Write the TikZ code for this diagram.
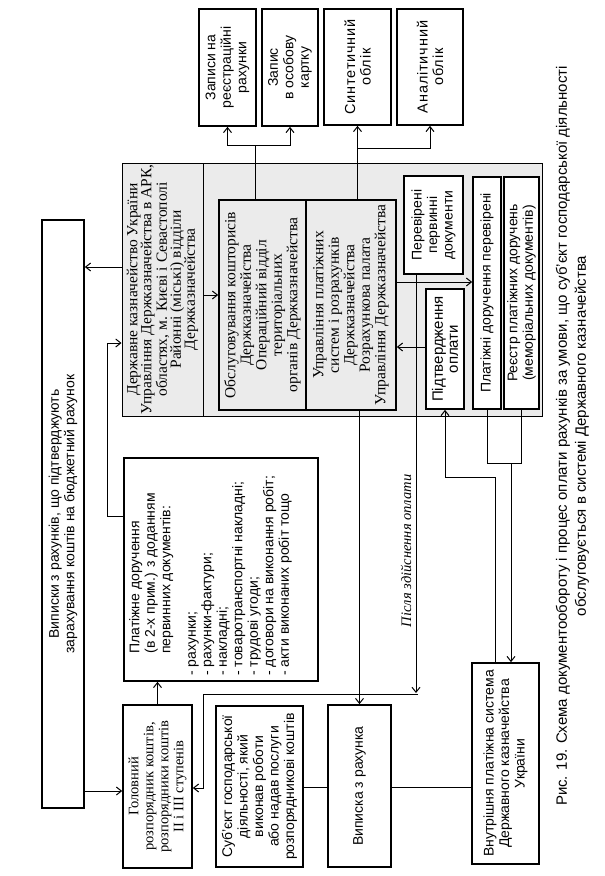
\documentclass[tikz,border=0pt]{standalone}
\usepackage{fontspec}
\setmainfont{Liberation Serif}
\setsansfont{Liberation Sans}
\newfontfamily\sfspaced{Liberation Sans}[LetterSpace=6]
\usetikzlibrary{arrows.meta,calc}
\begin{document}
\begin{tikzpicture}[x=1pt,y=1pt,
  box/.style={draw, line width=1.7pt, rotate=90, align=center, inner sep=1pt,
    font=\sffamily\fontsize{14}{15.5}\selectfont},
  sbox/.style={box, font=\rmfamily\fontsize{14.5}{15}\selectfont},
  bigserif/.style={font=\rmfamily\fontsize{15.5}{15.5}\selectfont},
  wbox/.style={box, fill=white},
  arr/.style={line width=1pt, -{Straight Barb[length=5pt,width=8pt]}},
  ln/.style={line width=1pt},
]
\useasboundingbox (0,0) rectangle (605,-876);
\fill[white] (0,0) rectangle (605,-876);

% treasury block
\node[draw, line width=1pt, fill=black!8, minimum width=420, minimum height=253, inner sep=0] (kazn) at (332,-289.5) {};
\node[sbox, line width=1pt, minimum width=253, minimum height=81, font=\rmfamily\fontsize{15.5}{14}\selectfont] (derzh) at (162.5,-289.5)
  {Державне казначейство України\\Управління Держказначейства в АРК,\\областях, м. Києві і Севастополі\\Районні (міські) відділи\\Держказначейства};
\node[sbox, bigserif, minimum width=210, minimum height=87] (obsl) at (262.5,-305)
  {Обслуговування кошторисів\\Держказначейства\\Операційний відділ\\територіальних\\органів Держказначейства};
\node[sbox, bigserif, minimum width=210, minimum height=90] (upr) at (351,-305)
  {Управління платіжних\\систем і розрахунків\\Держказначейства\\Розрахункова палата\\Управління Держказначейства};
\node[wbox, minimum width=98, minimum height=59] (perev) at (433.5,-225) {Перевірені\\первинні\\документи};
\node[wbox, minimum width=120, minimum height=38, font=\sffamily\fontsize{15}{15}\selectfont] (pidtv) at (445,-349) {Підтвердження\\оплати};
\node[wbox, minimum width=232, minimum height=28] (platper) at (487,-293) {Платіжні доручення перевірені};
\node[wbox, minimum width=232, minimum height=35] (reestr) at (521.5,-293) {Реєстр платіжних доручень\\(меморіальних документів)};

% top boxes
\node[box, minimum width=117, minimum height=57] (zap1) at (227.5,-67.5) {Записи на\\реєстраційні\\рахунки};
\node[box, minimum width=117, minimum height=56] (zap2) at (290,-67.5) {Запис\\в особову\\картку};
\node[box, minimum width=116, minimum height=67, font=\sfspaced\fontsize{14.5}{15.5}\selectfont] (synt) at (357.5,-67) {Синтетичний\\облік};
\node[box, minimum width=116, minimum height=66, font=\sfspaced\fontsize{14.5}{15.5}\selectfont] (anal) at (430,-67) {Аналітичний\\облік};

% left boxes
\node[box, minimum width=588, minimum height=42] (vyp) at (63,-514)
  {Виписки з рахунків, що підтверджують\\зарахування коштів на бюджетний рахунок};
\node[sbox, minimum width=163, minimum height=69] (gol) at (157.5,-786.5)
  {Головний\\розпорядник коштів,\\розпорядники коштів\\II і III ступенів};
\node[box, minimum width=223, minimum height=194] (plat) at (221,-569.5) {};
\node[rotate=90, anchor=north west, align=left, inner sep=0,
  font=\sffamily\fontsize{14}{15.5}\selectfont] (plattext) at ($(plat.north west)+(6,6)$)
  {\hspace*{22pt}Платіжне доручення\\\hspace*{22pt}(в 2-х прим.) з доданням\\\hspace*{22pt}первинних документів:\\[10pt]
   - рахунки;\\- рахунки-фактури;\\- накладні;\\- товаротранспортні накладні;\\- трудові угоди;\\- договори на виконання робіт;\\- акти виконаних робіт тощо};

% bottom boxes
\node[box, minimum width=161, minimum height=87] (subj) at (259.5,-786.5)
  {Суб’єкт господарської\\діяльності, який\\виконав роботи\\або надав послуги\\розпорядникові коштів};
\node[box, minimum width=162, minimum height=63] (vyp2) at (359.5,-786) {Виписка з рахунка};
\node[box, minimum width=201, minimum height=67] (vnutr) at (505.5,-763.5)
  {Внутрішня платіжна система\\Державного казначейства\\України};

% caption
\node[rotate=90, align=center, font=\sffamily\fontsize{15}{19}\selectfont] (cap) at (572.5,-436)
  {Рис. 19. Схема документообороту і процес оплати рахунків за умови, що суб’єкт господарської діяльності\\обслуговується в системі Державного казначейства};

% connectors
\draw[arr] (derzh.north |- 0,-267) -- (vyp.south |- 0,-267);
\draw[arr] (plat.north |- 0,-516) -- ++(-16,0) |- (derzh.north |- 0,-343);
\draw[arr] (derzh.south |- 0,-295) -- (obsl.north |- 0,-295);

\coordinate (j1) at (255,-145);
\draw[ln] (obsl.east -| j1) -- (j1);
\draw[arr] (j1) -| (zap1.west);
\draw[arr] (j1) -| (zap2.west);

\coordinate (j2) at (synt.west |- 0,-148);
\draw[arr] (upr.east -| synt.west) -- (synt.west);
\draw[arr] (j2) -| (anal.west);

\draw[arr] (upr.south |- 0,-282) -- (platper.north |- 0,-282);
\draw[arr] (pidtv.north |- 0,-347) -- (upr.south |- 0,-347);

\coordinate (j3) at (416,-694);
\draw[arr] (perev.west -| j3) -- ($(j3)+(0,1)$)
  node[pos=0.66, rotate=90, above=1pt, font=\rmfamily\itshape\fontsize{14.5}{15}\selectfont] (lbl) {Після здійснення оплати};
\draw[arr] ($(j3)+(2,0)$) -- (203,-694) |- (gol.south |- 0,-788);

\draw[arr] (upr.west -| vyp2.east) -- (vyp2.east);
\draw[arr] (vnutr.east -| 495,0) |- (pidtv.west |- 0,-477) -- (pidtv.west);

\draw[ln] (platper.west) -- (platper.west |- 0,-463) -- (reestr.west |- 0,-463) -- (reestr.west);
\draw[arr] (511,-463) -- (vnutr.east -| 511,0);

\draw[ln] (subj.south |- 0,-787) -- (vyp2.north |- 0,-787);
\draw[ln] (vyp2.south |- 0,-787) -- (vnutr.north |- 0,-787);

\draw[arr] (vyp.south |- 0,-791) -- (gol.north |- 0,-791);
\draw[arr] (gol.east) -- (gol.east |- plat.west);
\end{tikzpicture}
\end{document}
